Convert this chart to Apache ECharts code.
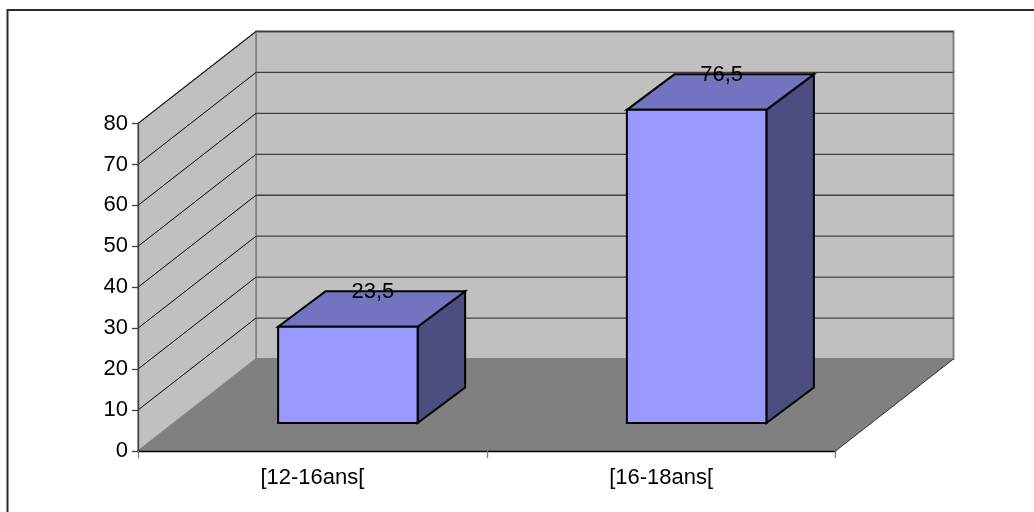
<!DOCTYPE html>
<html>
<head>
<meta charset="utf-8">
<style>html,body{margin:0;padding:0;background:#fff}#chart{width:1034px;height:512px}</style>
<script src="https://cdn.jsdelivr.net/npm/echarts@6/dist/echarts.min.js"></script>
</head>
<body>
<div id="chart"></div>
<script>
// Age bands and their shares
var categories = ['[12-16ans[', '[16-18ans['];
var shares = [23.5, 76.5];
var yTicks = [0, 10, 20, 30, 40, 50, 60, 70, 80];

// Oblique projection of the depth axis, in pixels
var DEPTH_X = 118, DEPTH_Y = -92;
// Where the cuboids sit along that depth axis
var BAR_NEAR_X = 35.5, BAR_NEAR_Y = -28;
var BAR_DEEP_X = 47.5, BAR_DEEP_Y = -35.5;
var BAR_WIDTH = 0.4;
// Value labels sit a little right of the wall's mid depth and just under the top edge
var LABEL_DX = 60.5, LABEL_DY = 1;
var FONT = '"Liberation Sans", Arial, sans-serif';

function offset(p, dx, dy) {
  return [p[0] + dx, p[1] + dy];
}
function back(p) {
  return offset(p, DEPTH_X, DEPTH_Y);
}
function poly(points, fill, stroke, width) {
  return {
    type: 'polygon',
    shape: { points: points },
    style: { fill: fill, stroke: stroke || null, lineWidth: width || 0, lineJoin: 'miter' }
  };
}
function seg(a, b, color, width) {
  return {
    type: 'line',
    shape: { x1: a[0], y1: a[1], x2: b[0], y2: b[1] },
    style: { stroke: color, lineWidth: width || 1 }
  };
}

// Back wall, side wall and floor of the box
function renderBox(params, api) {
  var cs = params.coordSys;
  var l = cs.x, r = cs.x + cs.width;
  var b = api.coord([0, 0])[1], t = api.coord([0, 80])[1];
  return {
    type: 'group',
    children: [
      poly([back([l, t]), back([r, t]), back([r, b]), back([l, b])], '#C0C0C0', '#808080', 2),
      poly([[l, t], back([l, t]), back([l, b]), [l, b]], '#C0C0C0', '#808080', 1.5),
      poly([[l, b], back([l, b]), back([r, b]), [r, b]], '#808080', null, 0),
      seg([r, b], back([r, b]), '#303030', 1)
    ]
  };
}

// One gridline per tick, running along the side wall and across the back wall
function renderGrid(params, api) {
  var cs = params.coordSys;
  var y = api.coord([0, api.value(0)])[1];
  var a = [cs.x, y], c = back(a), d = [cs.x + cs.width + DEPTH_X, c[1]];
  return {
    type: 'group',
    children: [seg(a, c, '#000000', 1), seg(c, d, '#404040', 1.3)]
  };
}

// Cuboid for each share, with the value printed at the back edge of its top face
function renderBar(params, api) {
  var i = api.value(0), v = api.value(1);
  var w = api.size([1, 0])[0] * BAR_WIDTH;
  var cx = api.coord([i, 0])[0];
  var base = api.coord([i, 0])[1], top = api.coord([i, v])[1];
  var fbl = offset([cx - w / 2, base], BAR_NEAR_X, BAR_NEAR_Y);
  var fbr = offset([cx + w / 2, base], BAR_NEAR_X, BAR_NEAR_Y);
  var ftl = offset([cx - w / 2, top], BAR_NEAR_X, BAR_NEAR_Y);
  var ftr = offset([cx + w / 2, top], BAR_NEAR_X, BAR_NEAR_Y);
  var btl = offset(ftl, BAR_DEEP_X, BAR_DEEP_Y);
  var btr = offset(ftr, BAR_DEEP_X, BAR_DEEP_Y);
  var bbr = offset(fbr, BAR_DEEP_X, BAR_DEEP_Y);
  return {
    type: 'group',
    children: [
      poly([fbr, ftr, btr, bbr], '#4D4D7F', '#000000', 2),
      poly([ftl, btl, btr, ftr], '#7373BF', '#000000', 2),
      poly([fbl, ftl, ftr, fbr], '#9999FF', '#000000', 2),
      {
        type: 'text',
        x: cx + LABEL_DX,
        y: btl[1] + LABEL_DY,
        z2: 10,
        style: {
          text: String(v).replace('.', ','),
          fill: '#000000',
          font: '22px ' + FONT,
          align: 'center',
          verticalAlign: 'middle'
        }
      }
    ]
  };
}

var chart = echarts.init(document.getElementById('chart'), null, { renderer: 'canvas' });
chart.setOption({
  animation: false,
  backgroundColor: '#ffffff',
  graphic: [{
    type: 'polyline',
    silent: true,
    shape: { points: [[7.5, 512], [7.5, 10], [1034, 10]] },
    style: { fill: null, stroke: '#2a2a2a', lineWidth: 2 }
  }],
  grid: { left: 138, right: 198.5, top: 123.5, bottom: 61 },
  xAxis: {
    type: 'category',
    data: categories,
    axisLine: { lineStyle: { color: '#000000', width: 1.3 } },
    axisTick: { show: true, alignWithLabel: false, length: 7, lineStyle: { color: '#808080', width: 1.3 } },
    axisLabel: { color: '#000000', fontFamily: FONT, fontSize: 22, margin: 16 },
    z: 5
  },
  yAxis: {
    type: 'value',
    min: 0, max: 80, interval: 10,
    splitLine: { show: false },
    axisLine: { show: true, lineStyle: { color: '#404040', width: 1.3 } },
    axisTick: { show: true, length: 6, lineStyle: { color: '#404040', width: 1.3 } },
    axisLabel: { color: '#000000', fontFamily: FONT, fontSize: 22, margin: 10 },
    z: 5
  },
  series: [
    { type: 'custom', name: 'box', data: [[0]], renderItem: renderBox, silent: true, z: 1, clip: false },
    { type: 'custom', name: 'grid', data: yTicks.slice(1).map(function (t) { return [t]; }), renderItem: renderGrid, silent: true, z: 2, clip: false },
    { type: 'custom', name: 'share', data: shares.map(function (v, i) { return [i, v]; }), renderItem: renderBar, encode: { x: 0, y: 1 }, silent: true, z: 3, clip: false }
  ]
});
</script>
</body>
</html>
